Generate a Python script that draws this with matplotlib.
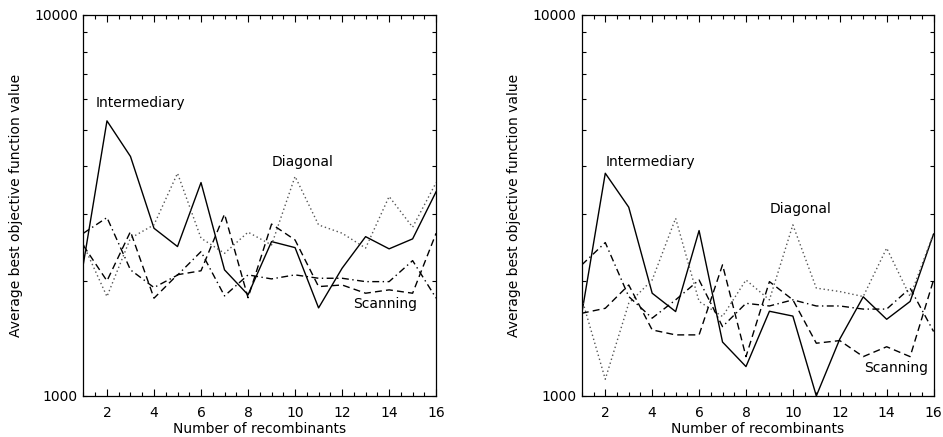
import matplotlib
matplotlib.use("Agg")
import matplotlib.pyplot as plt
from matplotlib.ticker import FixedLocator, MultipleLocator, NullFormatter, FixedFormatter

recombinants = list(range(1, 17))

# left panel
left_intermediary = [2228, 5270, 4250, 2754, 2466, 3630, 2142, 1842,
                     2541, 2450, 1702, 2163, 2618, 2432, 2583, 3436]
left_diagonal = [2490, 1823, 2594, 2812, 3840, 2594, 2367, 2690,
                 2490, 3767, 2810, 2673, 2443, 3337, 2772, 3630]
left_dashed = [2480, 2004, 2700, 1805, 2080, 2130, 3000, 1810,
               2825, 2566, 1936, 1955, 1860, 1898, 1860, 2673]
left_dashdot = [2673, 2938, 2142, 1925, 2075, 2392, 1830, 2078,
                2028, 2078, 2036, 2036, 1995, 1995, 2265, 1805]

# right panel
right_intermediary = [1648, 3840, 3128, 1860, 1665, 2716, 1385, 1194,
                      1668, 1620, 1000, 1410, 1820, 1589, 1770, 2660]
right_diagonal = [1800, 1106, 1750, 2015, 2925, 1770, 1616, 2015,
                  1787, 2811, 1918, 1879, 1823, 2443, 1823, 2673]
right_dashed = [1648, 1698, 1955, 1490, 1446, 1446, 2208, 1268,
                1995, 1787, 1375, 1397, 1268, 1346, 1268, 2015]
right_dashdot = [2208, 2526, 1823, 1600, 1787, 2015, 1520, 1750,
                 1722, 1787, 1722, 1722, 1690, 1690, 1918, 1476]

labels_left = [("Intermediary", 1.5, 5880), ("Diagonal", 9.0, 4100),
               ("Scanning", 12.46, 1744)]
labels_right = [("Intermediary", 2.0, 4100), ("Diagonal", 9.02, 3090),
                ("Scanning", 13.03, 1182)]

x_ticks = [2, 4, 6, 8, 10, 12, 14, 16]
y_minor = [2000, 3000, 4000, 5000, 6000, 7000, 8000, 9000]

plt.rcParams.update({
    "font.family": "DejaVu Sans",
    "font.size": 10,
    "xtick.direction": "in",
    "ytick.direction": "in",
})

fig = plt.figure(figsize=(9.43, 4.37), dpi=100)


def panel(rect, inter, diag, dashed, dashdot, labels):
    ax = fig.add_axes(rect)
    ax.plot(recombinants, inter, color="black", lw=1.0)
    ax.plot(recombinants, diag, color="#555555", lw=1.0, linestyle=(0, (1, 2)))
    ax.plot(recombinants, dashed, color="black", lw=1.0, linestyle=(0, (5, 3)))
    ax.plot(recombinants, dashdot, color="black", lw=1.0,
            linestyle=(0, (5, 2.5, 1, 2.5)))
    ax.set_yscale("log")
    ax.set_xlim(1, 16)
    ax.set_ylim(1000, 10000)
    ax.yaxis.set_major_locator(FixedLocator([1000, 10000]))
    ax.yaxis.set_major_formatter(FixedFormatter(["1000", "10000"]))
    ax.yaxis.set_minor_locator(FixedLocator(y_minor))
    ax.yaxis.set_minor_formatter(NullFormatter())
    ax.xaxis.set_major_locator(FixedLocator(x_ticks))
    ax.xaxis.set_minor_locator(MultipleLocator(0.5))
    ax.tick_params(which="both", top=True, right=True, width=0.8)
    ax.tick_params(axis="x", which="major", length=5, pad=7)
    ax.tick_params(axis="x", which="minor", length=2.8)
    ax.tick_params(axis="y", which="both", length=2.8, pad=4)
    for s in ax.spines.values():
        s.set_linewidth(0.9)
    ax.set_xlabel("Number of recombinants", labelpad=2)
    ax.set_ylabel("Average best objective function value", labelpad=8)
    for txt, x, y in labels:
        ax.text(x, y, txt, ha="left", va="center", fontsize=10)
    return ax


panel([0.0885, 0.094, 0.374, 0.872], left_intermediary, left_diagonal,
      left_dashed, left_dashdot, labels_left)
panel([0.617, 0.094, 0.373, 0.872], right_intermediary, right_diagonal,
      right_dashed, right_dashdot, labels_right)

fig.savefig("out.png", dpi=100, facecolor="white")
